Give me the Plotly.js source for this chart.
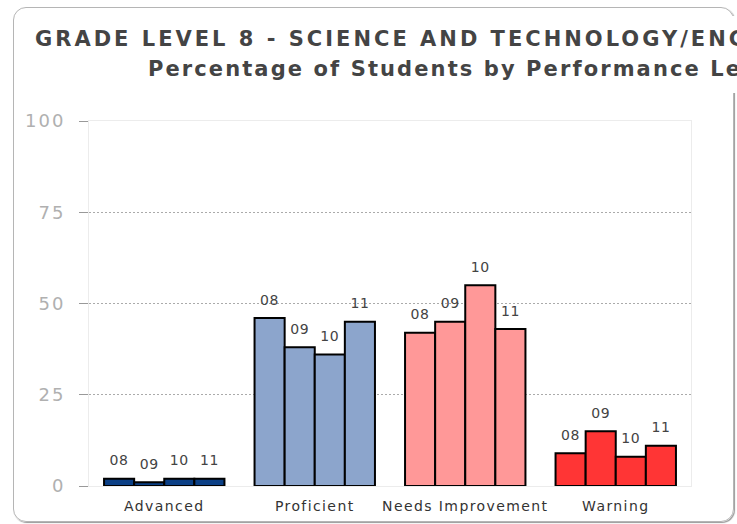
<!DOCTYPE html>
<html>
<head>
<meta charset="utf-8">
<script src="https://cdn.plot.ly/plotly-3.0.1.min.js"></script>
<style>
  html, body { margin: 0; padding: 0; background: #fff; }
  #wrap { position: relative; width: 737px; height: 524px; overflow: hidden; }
  #frame { position: absolute; left: 13px; top: 7px; width: 719px; height: 513px;
           border: 1px solid #b5b5b5; border-radius: 13px;
           box-shadow: 1px 1px 1px #999; }
  #cover { position: absolute; left: 725px; top: 16px; width: 12px; height: 77px; background: #fff; }
  #chart { position: absolute; left: 0; top: 0; width: 737px; height: 524px; }
  #chart g.annotation[data-index="0"] text { letter-spacing: 3px; }
  #chart g.annotation[data-index="1"] text { letter-spacing: 2.1px; }
  #chart g.ytick text { letter-spacing: 2px; }
  #chart g.xtick text { letter-spacing: 1.4px; }
  #chart text.bartext { letter-spacing: 0.6px; }
</style>
</head>
<body>
<div id="wrap">
  <div id="frame"></div>
  <div id="cover"></div>
  <div id="chart"></div>
</div>
<script>
// ---- data ----
const categories = ["Advanced", "Proficient", "Needs Improvement", "Warning"];
const seriesNames = ["08", "09", "10", "11"];
const values08 = [2, 46, 42, 9];
const values09 = [1, 38, 45, 15];
const values10 = [2, 36, 55, 8];
const values11 = [2, 45, 43, 11];
const yTicks = [0, 25, 50, 75, 100];
const gridTicks = [25, 50, 75];
const titleLine1 = "GRADE LEVEL 8 - SCIENCE AND TECHNOLOGY/ENGINEERING";
const titleLine2 = "Percentage of Students by Performance Level";

const categoryColors = ["#0b3f85", "#8ca5cc", "#ff9898", "#ff3535"];
const allValues = [values08, values09, values10, values11];

const FONT = "DejaVu Sans, Verdana, sans-serif";

// label on the first line, a tiny spacer line below lifts it off the bar top
function barLabel(name) {
  return "<span style='font-size:14px'>" + name + "</span><br><span style='font-size:1px'>&nbsp;</span>";
}

const traces = seriesNames.map((name, i) => ({
  type: "bar",
  name: name,
  x: categories,
  y: allValues[i],
  text: categories.map(() => barLabel(name)),
  textposition: "outside",
  constraintext: "none",
  cliponaxis: false,
  textfont: { family: FONT, size: 8, color: "#444" },
  marker: { color: categoryColors, line: { color: "#000", width: 2 } },
  hoverinfo: "x+y+name"
}));

// plot area in pixels: x 89..691, y 121..486
const L = 89, R = 737 - 691, T = 121, B = 524 - 486;
const PW = 737 - L - R, PH = 524 - T - B;
function px2paperX(px) { return (px - L) / PW; }
function py2paperY(py) { return (524 - B - py) / PH; }

const layout = {
  width: 737, height: 524,
  margin: { l: L, r: R, t: T, b: B, pad: 0 },
  paper_bgcolor: "rgba(0,0,0,0)",
  plot_bgcolor: "rgba(0,0,0,0)",
  showlegend: false,
  barmode: "group",
  bargap: 0.2,
  bargroupgap: 0,
  font: { family: FONT },
  xaxis: {
    type: "category",
    range: [-0.5, 3.5],
    showgrid: false,
    showline: true, linecolor: "#ececec", linewidth: 1, mirror: true,
    ticks: "",
    tickfont: { family: FONT, size: 14, color: "#333" },
    ticklabelstandoff: 7,
    fixedrange: true
  },
  yaxis: {
    range: [0, 100],
    tickmode: "array",
    tickvals: yTicks,
    showgrid: false,
    zeroline: false,
    showline: true, linecolor: "#ececec", linewidth: 1, mirror: true,
    ticks: "outside", ticklen: 9, tickcolor: "#999", tickwidth: 1,
    tickfont: { family: FONT, size: 18, color: "#b0b0b0" },
    ticklabelstandoff: 10,
    minor: { tickmode: "array", tickvals: gridTicks, showgrid: true, gridcolor: "#aaa", griddash: "2px,2px", gridwidth: 1, ticks: "" },
    fixedrange: true
  },
  annotations: [
    { text: "<b>" + titleLine1 + "</b>", xref: "paper", yref: "paper",
      x: px2paperX(33), y: py2paperY(39), xanchor: "left", yanchor: "middle", align: "left",
      showarrow: false, font: { family: FONT, size: 21, color: "#444" } },
    { text: "<b>" + titleLine2 + "</b>", xref: "paper", yref: "paper",
      x: px2paperX(146), y: py2paperY(69), xanchor: "left", yanchor: "middle", align: "left",
      showarrow: false, font: { family: FONT, size: 21, color: "#444" } }
  ]
};

Plotly.newPlot("chart", traces, layout, { displayModeBar: false, staticPlot: true });
</script>
</body>
</html>
